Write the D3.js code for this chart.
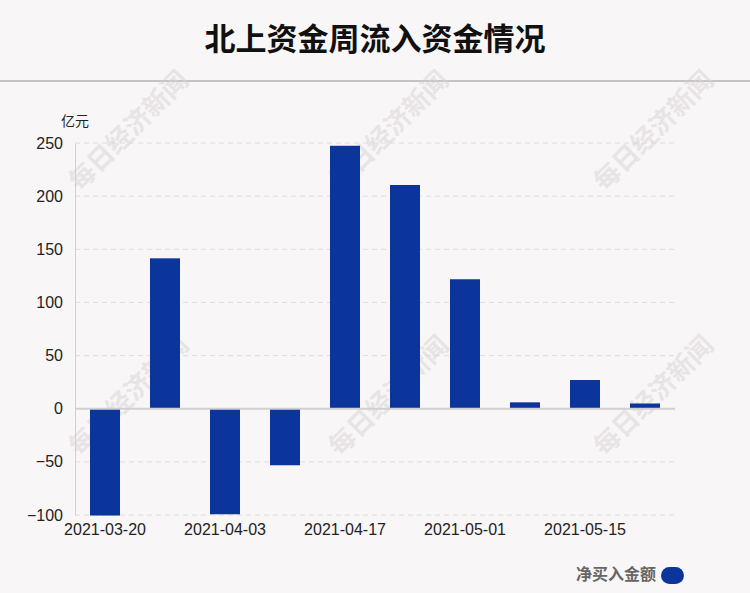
<!DOCTYPE html>
<html><head><meta charset="utf-8">
<script src="https://cdn.jsdelivr.net/npm/d3@7"></script>
<style>body{margin:0;background:#f9f6f7;}svg{display:block;font-family:"Liberation Sans","Noto Sans CJK SC",sans-serif;}</style>
</head><body>
<script>
const dates = ["2021-03-20","2021-03-27","2021-04-03","2021-04-10","2021-04-17","2021-04-24","2021-05-01","2021-05-08","2021-05-15","2021-05-22"];
const values = [-100.5, 141.5, -99.3, -53.2, 247.4, 210.5, 121.8, 6.0, 27.0, 4.9];
const yTicks = [-100, -50, 0, 50, 100, 150, 200, 250];
const xTickLabels = ["2021-03-20","2021-04-03","2021-04-17","2021-05-01","2021-05-15"];

const W = 750, H = 593;
const svg = d3.select("body").append("svg").attr("width", W).attr("height", H);
svg.append("rect").attr("width", W).attr("height", H).attr("fill", "#f9f6f7");

svg.append("text").attr("x", 375).attr("y", 50).attr("text-anchor", "middle")
  .attr("font-size", 31).attr("font-weight", "bold").attr("fill", "#111")
  .attr("font-family", "'Noto Sans CJK SC',sans-serif").text("北上资金周流入资金情况");
svg.append("line").attr("x1", 0).attr("x2", W).attr("y1", 81).attr("y2", 81)
  .attr("stroke", "#c4c4c4").attr("stroke-width", 2);

const x = d3.scaleBand().domain(dates).range([75, 675]).paddingInner(0.5).paddingOuter(0.25);
const y = d3.scaleLinear().domain([-100, 250]).range([515, 143]);

// grid
svg.append("g").selectAll("line").data(yTicks.filter(d => d !== 0)).join("line")
  .attr("x1", 75).attr("x2", 675).attr("y1", d => y(d)).attr("y2", d => y(d))
  .attr("stroke", "#e0dcdd").attr("stroke-dasharray", "5,4");

// watermarks
const wm = [[130,132],[390,132],[655,132],[130,397],[390,397],[655,397]];
svg.append("g").selectAll("text").data(wm).join("text")
  .attr("transform", d => `translate(${d[0]},${d[1]}) rotate(-45)`)
  .attr("text-anchor", "middle").attr("dominant-baseline", "middle")
  .attr("font-size", 26).attr("font-weight", "bold").attr("fill", "#d8d4d5").attr("opacity", 0.5)
  .attr("font-family", "'Noto Sans CJK SC',sans-serif").text("每日经济新闻");

// y axis
const yAxis = d3.axisLeft(y).tickValues(yTicks).tickSize(0).tickPadding(12);
const ya = svg.append("g").attr("transform", "translate(75,0)").call(yAxis);
ya.select(".domain").attr("stroke", "#d0d0d0");
ya.selectAll("text").attr("font-size", 16).attr("fill", "#222").attr("font-family", "'Liberation Sans',sans-serif");

svg.append("text").attr("x", 61).attr("y", 126).attr("font-size", 14).attr("fill", "#222")
  .attr("font-family", "'Noto Sans CJK SC',sans-serif").text("亿元");

// bars
svg.append("g").selectAll("rect").data(values).join("rect")
  .attr("x", (d, i) => x(dates[i])).attr("width", x.bandwidth())
  .attr("y", d => y(Math.max(0, d))).attr("height", d => Math.abs(y(d) - y(0)))
  .attr("fill", "#0c359c");

// zero line
svg.append("line").attr("x1", 75).attr("x2", 675).attr("y1", y(0)).attr("y2", y(0))
  .attr("stroke", "#d0d0d0").attr("stroke-width", 2);

// x axis
const xAxis = d3.axisBottom(x).tickValues(xTickLabels).tickSize(0).tickPadding(9);
const xa = svg.append("g").attr("transform", "translate(0,515)").call(xAxis);
xa.select(".domain").remove();
xa.selectAll("text").attr("font-size", 16).attr("fill", "#222").attr("font-family", "'Liberation Sans',sans-serif");

// legend
svg.append("text").attr("x", 656).attr("y", 580).attr("text-anchor", "end")
  .attr("font-size", 16).attr("font-weight", "bold").attr("fill", "#666")
  .attr("font-family", "'Noto Sans CJK SC',sans-serif").text("净买入金额");
svg.append("rect").attr("x", 661).attr("y", 567).attr("width", 23).attr("height", 17)
  .attr("rx", 8.5).attr("fill", "#0c359c");
</script>
</body></html>
